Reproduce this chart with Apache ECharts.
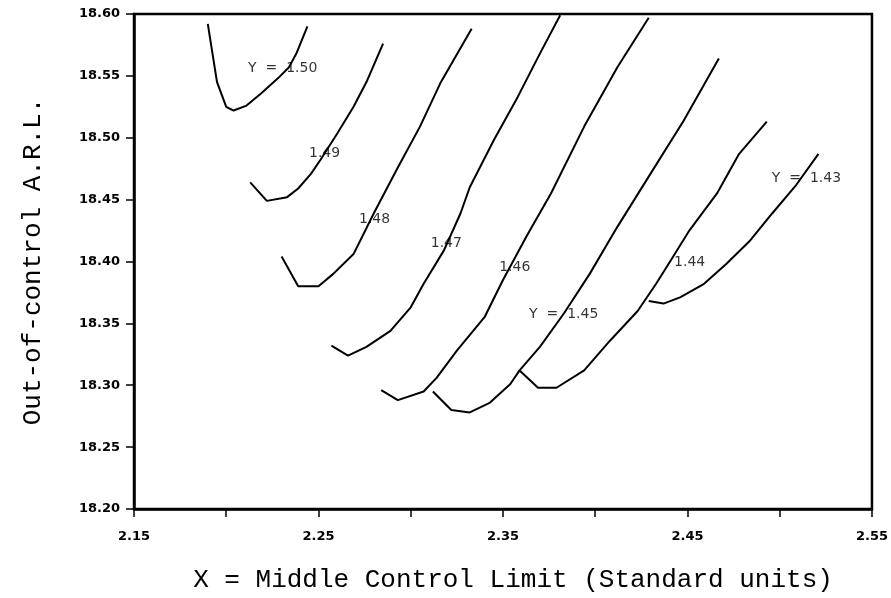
<!DOCTYPE html>
<html>
<head>
<meta charset="utf-8">
<script src="https://cdn.jsdelivr.net/npm/echarts@6/dist/echarts.min.js"></script>
<style>html,body{margin:0;padding:0;background:#fff}#c{width:891px;height:598px}</style>
</head>
<body>
<div id="c"></div>
<script>
// Tick labels
const xTickLabels = ['2.15', '2.25', '2.35', '2.45', '2.55'];
const yTickLabels = ['18.20', '18.25', '18.30', '18.35', '18.40', '18.45', '18.50', '18.55', '18.60'];

// Curves: X = middle control limit, ARL values
const c150x = [2.190, 2.195, 2.200, 2.204, 2.211, 2.219, 2.228, 2.234, 2.238, 2.244];
const c150y = [18.592, 18.545, 18.525, 18.522, 18.526, 18.536, 18.548, 18.557, 18.568, 18.590];

const c149x = [2.213, 2.222, 2.233, 2.239, 2.246, 2.251, 2.260, 2.269, 2.276, 2.285];
const c149y = [18.464, 18.449, 18.452, 18.459, 18.471, 18.482, 18.503, 18.525, 18.545, 18.576];

const c148x = [2.230, 2.239, 2.250, 2.258, 2.269, 2.280, 2.293, 2.305, 2.316, 2.333];
const c148y = [18.404, 18.380, 18.380, 18.390, 18.406, 18.439, 18.476, 18.509, 18.544, 18.588];

const c147x = [2.257, 2.266, 2.276, 2.289, 2.300, 2.307, 2.318, 2.327, 2.332, 2.345, 2.358, 2.370, 2.381];
const c147y = [18.332, 18.324, 18.331, 18.344, 18.363, 18.382, 18.409, 18.439, 18.460, 18.498, 18.533, 18.568, 18.599];

const c146x = [2.284, 2.293, 2.307, 2.314, 2.325, 2.340, 2.350, 2.363, 2.376, 2.394, 2.412, 2.429];
const c146y = [18.296, 18.288, 18.295, 18.306, 18.328, 18.355, 18.385, 18.421, 18.455, 18.509, 18.557, 18.597];

const c145x = [2.312, 2.322, 2.332, 2.343, 2.354, 2.359, 2.370, 2.383, 2.397, 2.412, 2.430, 2.448, 2.467];
const c145y = [18.295, 18.280, 18.278, 18.286, 18.301, 18.312, 18.331, 18.358, 18.390, 18.428, 18.471, 18.514, 18.564];

const c144x = [2.359, 2.369, 2.379, 2.394, 2.408, 2.423, 2.433, 2.441, 2.451, 2.466, 2.478, 2.493];
const c144y = [18.312, 18.298, 18.298, 18.312, 18.336, 18.360, 18.382, 18.401, 18.425, 18.455, 18.487, 18.513];

const c143x = [2.429, 2.437, 2.446, 2.459, 2.471, 2.484, 2.496, 2.509, 2.521];
const c143y = [18.368, 18.366, 18.371, 18.382, 18.398, 18.417, 18.439, 18.462, 18.487];

// Curve labels
const labelTexts = ['Y  =  1.50', '1.49', '1.48', '1.47', '1.46', 'Y  =  1.45', '1.44', 'Y  =  1.43'];
const labelX = [2.2306, 2.2533, 2.2804, 2.3193, 2.3564, 2.3829, 2.4512, 2.5145];
const labelY = [18.556, 18.487, 18.434, 18.4145, 18.3953, 18.3576, 18.3994, 18.4669];

const curves = [
  [c150x, c150y], [c149x, c149y], [c148x, c148y], [c147x, c147y],
  [c146x, c146y], [c145x, c145y], [c144x, c144y], [c143x, c143y]
];

const zip = (xs, ys) => xs.map((x, i) => [x, ys[i]]);

const lineSeries = curves.map(c => ({
  type: 'line',
  data: zip(c[0], c[1]),
  symbol: 'none',
  smooth: false,
  lineStyle: { color: '#000', width: 2 },
  silent: true,
  z: 2
}));

const labelSeries = {
  type: 'scatter',
  data: labelX.map((x, i) => ({ value: [x, labelY[i]], name: labelTexts[i] })),
  symbolSize: 0,
  silent: true,
  z: 5,
  label: {
    show: true,
    position: 'inside',
    formatter: p => p.name,
    color: '#000',
    fontFamily: 'DejaVu Sans',
    fontSize: 14
  }
};

const chart = echarts.init(document.getElementById('c'), null, { renderer: 'canvas' });
chart.setOption({
  animation: false,
  backgroundColor: '#fff',
  grid: {
    left: 134, right: 17, top: 14, bottom: 88,
    show: true, borderColor: '#000', borderWidth: 2.5, backgroundColor: 'transparent'
  },
  xAxis: {
    type: 'value',
    min: 2.15, max: 2.55, interval: 0.05,
    name: 'X = Middle Control Limit (Standard units)',
    nameLocation: 'middle',
    nameGap: 58,
    nameTextStyle: { fontFamily: 'Liberation Mono', fontSize: 26, color: '#000', padding: [0, 0, 0, 20] },
    axisLine: { show: true, lineStyle: { color: '#000', width: 2.5 } },
    axisTick: { show: true, inside: false, length: 8, lineStyle: { color: '#000', width: 1.5 } },
    splitLine: { show: false },
    axisLabel: {
      margin: 21,
      color: '#000',
      fontFamily: 'DejaVu Sans',
      fontWeight: 'bold',
      fontSize: 13,
      formatter: v => { const s = v.toFixed(2); return xTickLabels.includes(s) ? s : ''; }
    }
  },
  yAxis: {
    type: 'value',
    min: 18.20, max: 18.60, interval: 0.05,
    name: 'Out-of-control A.R.L.',
    nameLocation: 'middle',
    nameRotate: 90,
    nameGap: 88,
    nameTextStyle: { fontFamily: 'Liberation Mono', fontSize: 26, color: '#000', padding: [0, 0, 0, 0] },
    axisLine: { show: true, lineStyle: { color: '#000', width: 2.5 } },
    axisTick: { show: true, inside: false, length: 8, lineStyle: { color: '#000', width: 1.5 } },
    splitLine: { show: false },
    axisLabel: {
      margin: 14,
      color: '#000',
      fontFamily: 'DejaVu Sans',
      fontWeight: 'bold',
      fontSize: 13,
      formatter: v => { const s = v.toFixed(2); return yTickLabels.includes(s) ? s : ''; }
    }
  },
  series: lineSeries.concat([labelSeries])
});
</script>
</body>
</html>
